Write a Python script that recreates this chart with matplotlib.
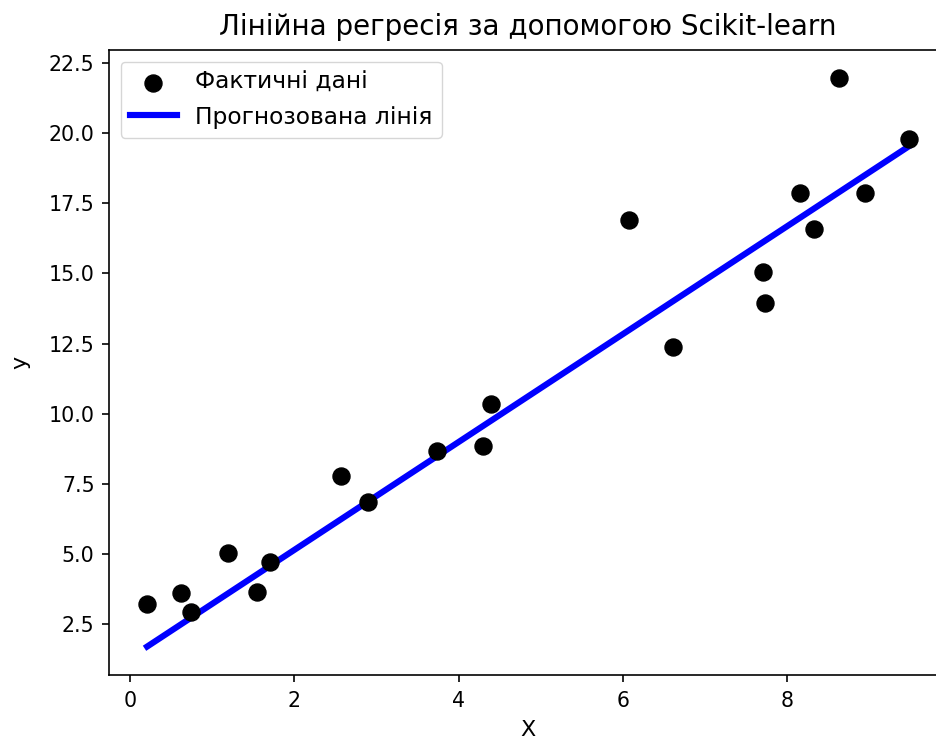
import numpy as np
import matplotlib
matplotlib.use("Agg")
import matplotlib.pyplot as plt

# observed samples
X = [0.21, 0.62, 0.74, 1.20, 1.55, 1.70, 2.57, 2.90, 3.74, 4.30,
     4.39, 6.07, 6.61, 7.71, 7.73, 8.16, 8.33, 8.63, 8.94, 9.48]
y = [3.22, 3.58, 2.93, 5.04, 3.65, 4.72, 7.77, 6.84, 8.66, 8.84,
     10.35, 16.91, 12.39, 15.04, 13.93, 17.88, 16.59, 21.96, 17.88, 19.81]

# fitted model coefficients
intercept = 1.28
slope = 1.926

title = "Лінійна регресія за допомогою Scikit-learn"
label_points = "Фактичні дані"
label_line = "Прогнозована лінія"

X = np.array(X)
y = np.array(y)
y_pred = intercept + slope * X

k = 1.48  # scale from the base 10pt style
plt.rcParams.update({
    "font.family": ["DejaVu Sans"],
    "font.size": 10 * k,
    "axes.linewidth": 0.8 * k,
    "xtick.major.width": 0.8 * k,
    "ytick.major.width": 0.8 * k,
    "xtick.major.size": 3.5 * k,
    "ytick.major.size": 3.5 * k,
    "xtick.major.pad": 4.5 * k,
    "ytick.major.pad": 3.5 * k,
})

fig = plt.figure(figsize=(9.36, 7.42), dpi=100)
ax = fig.add_axes([109 / 936, 67 / 742, 838 / 936, 625 / 742])

ax.scatter(X, y, color="black", s=150, label=label_points, zorder=3)
ax.plot(X, y_pred, color="blue", linewidth=3 * k, label=label_line)

ax.set_title(title, fontsize=20, pad=11)
ax.set_xlabel("X", fontsize=16, labelpad=6)
ax.set_ylabel("y", fontsize=16, labelpad=13)
ax.legend(loc="upper left", fontsize=16.8)

fig.savefig("out.png", dpi=100)
